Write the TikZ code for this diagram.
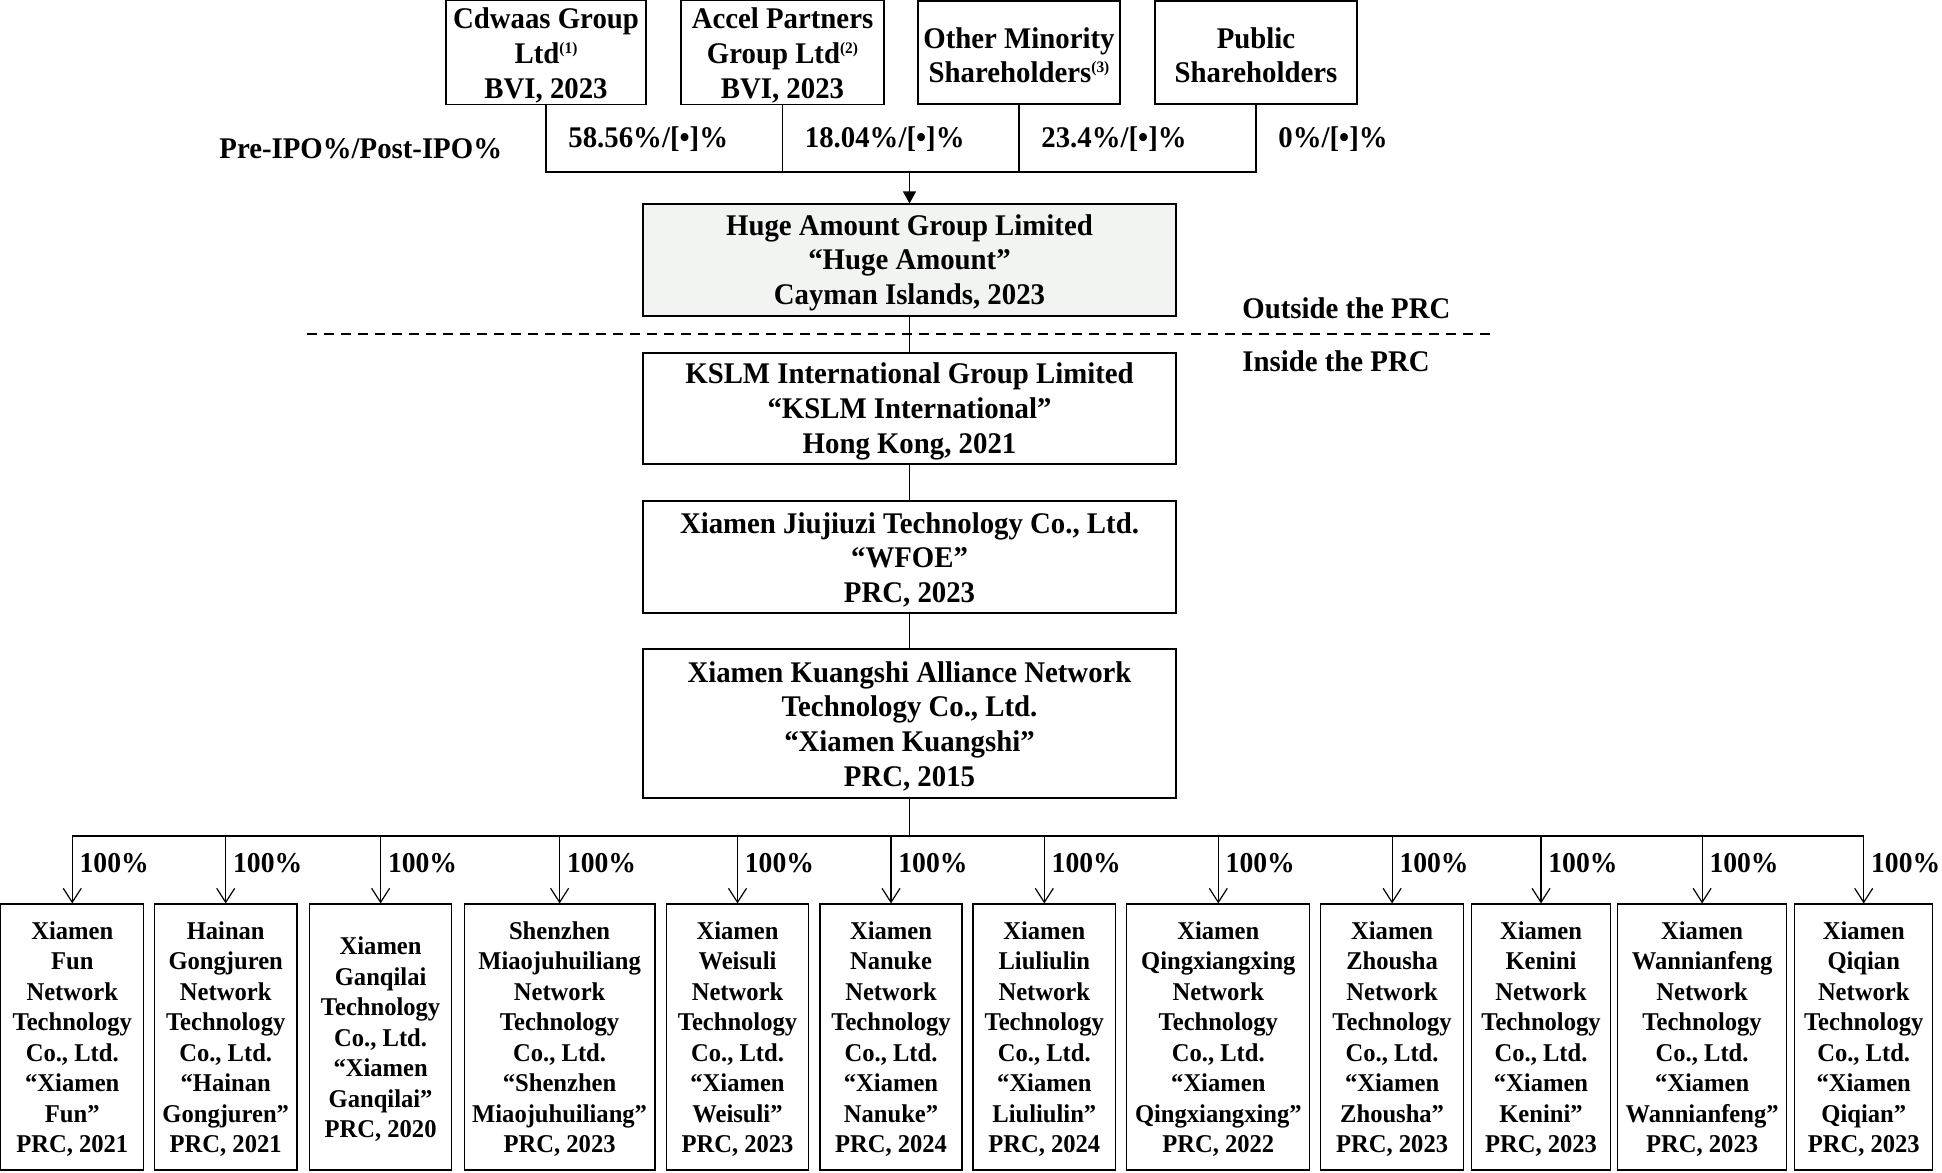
\documentclass[tikz,border=0pt]{standalone}
\usepackage{fontspec}
\setmainfont{Liberation Serif}[FakeStretch=0.96]
\usetikzlibrary{arrows.meta}
\definecolor{hugefill}{RGB}{242,244,242}
\newcommand\mainf{\fontsize{15}{17.4}\selectfont\bfseries}
\newcommand\kidf{\fontsize{12.8}{15.25}\selectfont\bfseries}
\newcommand\pctf{\fontsize{14.4}{17}\selectfont\bfseries}
\newcommand\supn[1]{\raisebox{0.75ex}{\fontsize{8}{8}\selectfont(#1)}}
\newcommand\dnm{\rule{0pt}{13.2pt}}
\newcommand\dnk{\rule{0pt}{11pt}}
\begin{document}
\begin{tikzpicture}[x=0.5pt,y=-0.5pt,
 box/.style={draw, line width=0.6pt, align=center, inner sep=1pt, font=\mainf},
 kid/.style={draw, line width=0.6pt, align=center, inner sep=1pt, font=\kidf, minimum height=133pt},
 conn/.style={line width=0.6pt},
 busline/.style={line width=0.9pt},
 tri/.style={line width=0.6pt,-{Triangle[length=6pt,width=6.5pt]}},
 barb/.style={line width=0.6pt,-{Straight Barb[length=7pt,width=9pt]}},
 lbl/.style={font=\mainf, inner sep=0pt, anchor=base west},
 pct/.style={font=\pctf, inner sep=0pt, anchor=base west}]
\useasboundingbox (0,0) rectangle (1942,1172);

% top shareholders
\node[box, minimum width=100pt, minimum height=51.5pt] (cd) at (546,52.5) {\dnm Cdwaas Group\\Ltd\supn{1}\\BVI, 2023};
\node[box, minimum width=101.5pt, minimum height=51.5pt] (ac) at (782.5,52.5) {\dnm Accel Partners\\Group Ltd\supn{2}\\BVI, 2023};
\node[box, minimum width=101pt, minimum height=51.5pt] (om) at (1019,52.5) {\dnm Other Minority\\Shareholders\supn{3}};
\node[box, minimum width=101pt, minimum height=51.5pt] (ps) at (1256,52.5) {\dnm Public\\Shareholders};

\coordinate (brk) at (909.5,172);
\draw[conn] (cd.south) -- (cd.south |- brk) -- (ps.south |- brk) -- (ps.south);
\draw[conn] (ac.south) -- (ac.south |- brk);
\draw[conn] (om.south) -- (om.south |- brk);

\coordinate (pl) at (0,148);
\node[lbl, xshift=11pt] (p1) at (cd.south |- pl) {58.56\%/[•]\%};
\node[lbl, xshift=11pt] (p2) at (ac.south |- pl) {18.04\%/[•]\%};
\node[lbl, xshift=11pt] (p3) at (om.south |- pl) {23.4\%/[•]\%};
\node[lbl, xshift=11pt] (p4) at (ps.south |- pl) {0\%/[•]\%};
\node[lbl] (pre) at (219,158) {Pre-IPO\%/Post-IPO\%};

% main chain
\node[box, fill=hugefill, minimum width=266.5pt, minimum height=56pt] (huge) at (909.5,260) {\dnm Huge Amount Group Limited\\“Huge Amount”\\Cayman Islands, 2023};
\draw[tri] (huge.north |- brk) -- (huge.north);

\coordinate (dl) at (307,334);
\coordinate (dr) at (1495,334);
\draw[line width=0.6pt, dash pattern=on 5pt off 3.5pt] (dl) -- (dr);
\node[lbl] (outs) at (1242,318) {Outside the PRC};
\node[lbl] (ins) at (1242,371) {Inside the PRC};

\node[box, minimum width=266.5pt, minimum height=55.5pt] (kslm) at (909.5,408.5) {\dnm KSLM International Group Limited\\“KSLM International”\\Hong Kong, 2021};
\node[box, minimum width=266.5pt, minimum height=56pt] (wfoe) at (909.5,557) {\dnm Xiamen Jiujiuzi Technology Co., Ltd.\\“WFOE”\\PRC, 2023};
\node[box, minimum width=266.5pt, minimum height=74.5pt] (kx) at (909.5,723.5) {\dnm Xiamen Kuangshi Alliance Network\\Technology Co., Ltd.\\“Xiamen Kuangshi”\\PRC, 2015};
\draw[conn] (huge.south) -- (kslm.north);
\draw[conn] (kslm.south) -- (wfoe.north);
\draw[conn] (wfoe.south) -- (kx.north);

% children
\node[kid, minimum width=71.5pt] (c1) at (72.25,1037) {\dnk Xiamen\\Fun\\Network\\Technology\\Co., Ltd.\\“Xiamen\\Fun”\\PRC, 2021};
\node[kid, minimum width=71.25pt] (c2) at (225.7,1037) {\dnk Hainan\\Gongjuren\\Network\\Technology\\Co., Ltd.\\“Hainan\\Gongjuren”\\PRC, 2021};
\node[kid, minimum width=71.2pt] (c3) at (380.6,1037) {\dnk Xiamen\\Ganqilai\\Technology\\Co., Ltd.\\“Xiamen\\Ganqilai”\\PRC, 2020};
\node[kid, minimum width=95.3pt] (c4) at (559.6,1037) {\dnk Shenzhen\\Miaojuhuiliang\\Network\\Technology\\Co., Ltd.\\“Shenzhen\\Miaojuhuiliang”\\PRC, 2023};
\node[kid, minimum width=71pt] (c5) at (737.5,1037) {\dnk Xiamen\\Weisuli\\Network\\Technology\\Co., Ltd.\\“Xiamen\\Weisuli”\\PRC, 2023};
\node[kid, minimum width=71pt] (c6) at (891,1037) {\dnk Xiamen\\Nanuke\\Network\\Technology\\Co., Ltd.\\“Xiamen\\Nanuke”\\PRC, 2024};
\node[kid, minimum width=71.3pt] (c7) at (1044.3,1037) {\dnk Xiamen\\Liuliulin\\Network\\Technology\\Co., Ltd.\\“Xiamen\\Liuliulin”\\PRC, 2024};
\node[kid, minimum width=91.5pt] (c8) at (1218.3,1037) {\dnk Xiamen\\Qingxiangxing\\Network\\Technology\\Co., Ltd.\\“Xiamen\\Qingxiangxing”\\PRC, 2022};
\node[kid, minimum width=71.6pt] (c9) at (1392.1,1037) {\dnk Xiamen\\Zhousha\\Network\\Technology\\Co., Ltd.\\“Xiamen\\Zhousha”\\PRC, 2023};
\node[kid, minimum width=69.4pt] (c10) at (1541,1037) {\dnk Xiamen\\Kenini\\Network\\Technology\\Co., Ltd.\\“Xiamen\\Kenini”\\PRC, 2023};
\node[kid, minimum width=84.3pt] (c11) at (1702.1,1037) {\dnk Xiamen\\Wannianfeng\\Network\\Technology\\Co., Ltd.\\“Xiamen\\Wannianfeng”\\PRC, 2023};
\node[kid, minimum width=69pt] (c12) at (1863.7,1037) {\dnk Xiamen\\Qiqian\\Network\\Technology\\Co., Ltd.\\“Xiamen\\Qiqian”\\PRC, 2023};

\coordinate (bus) at (909.5,836);
\coordinate (hl) at (0,872);
\draw[conn] (kx.south) -- (bus);
\draw[busline] (c1.north |- bus) -- (c12.north |- bus);
\foreach \c in {c1,c2,c3,c4,c5,c6,c7,c8,c9,c10,c11,c12}{
  \draw[barb] (\c.north |- bus) -- (\c.north);
  \node[pct, xshift=3.5pt] at (\c.north |- hl) {100\%};
}
\end{tikzpicture}
\end{document}
